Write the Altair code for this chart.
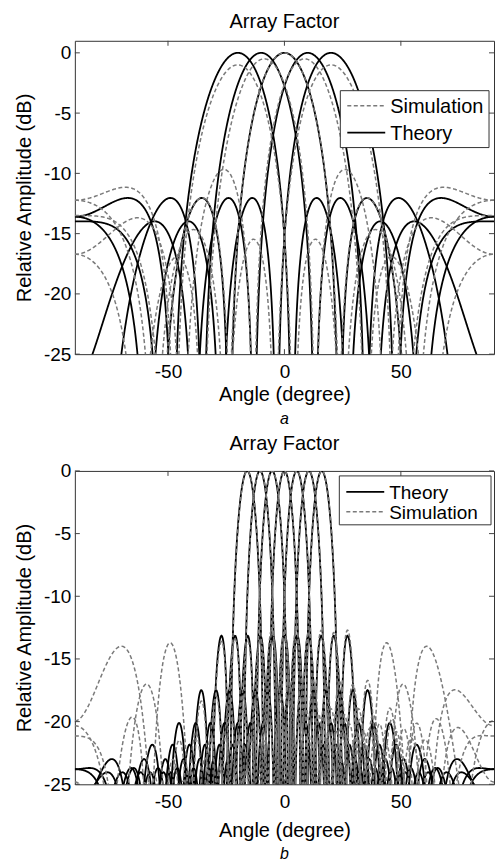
import numpy as np
import pandas as pd
import altair as alt

# ---- values ----
N_ELEMENTS_A = 5                      # panel a: elements (first sidelobe -12 dB, edge level -14 dB)
STEER_A = [-20, -10, 0, 10, 20]       # panel a: beam peak angles (deg)
SIM_PEAK_A = [-1.0, -0.5, 0.0, -0.5, -1.0]   # panel a: simulated beam peak levels (dB)
# panel a: per-element phase deviation of the simulated beams (deg)
SIM_PHASE_ERR_A = [
    [-3, 7, 0, -7, 5],
    [14, -8, 0, 7, -14],
    [6, -4, 0, -4, 6],
    [-14, 7, 0, -8, 14],
    [5, -7, 0, 7, -3],
]
N_ELEMENTS_B = 16                     # panel b
STEER_B = [-16.0, -10.5, -5.3, 0.0, 5.3, 10.5, 16.0]   # panel b: beam peak angles (deg)
# panel b: alternating (element-to-element) phase deviation of the simulated beams (deg)
SIM_ALT_ERR_B = [10.2, 6.0, 9.8, 5.5, 9.8, 6.0, 10.2]
X_TICKS = [-50, 0, 50]
Y_TICKS = [0, -5, -10, -15, -20, -25]
Y_DOMAIN_A = [-25, 1]
Y_DOMAIN_B = [-25, 0]
LEGEND_A = ["Simulation", "Theory"]
LEGEND_B = ["Theory", "Simulation"]

ANGLES = np.arange(-90.0, 90.0001, 0.25)
FONT = "Liberation Sans"
W, HA, HB = 420, 314, 314
COLORS = {"Theory": "#000000", "Simulation": "#7a7a7a"}
DASHES = {"Theory": [1, 0], "Simulation": [4, 2.5]}
WIDTHS = {"Theory": 1.8, "Simulation": 1.5}


def pattern(n, steer, err_deg=None, peak_db=0.0):
    idx = np.arange(n) - (n - 1) / 2.0
    ph = -np.pi * idx * np.sin(np.radians(steer))
    if err_deg is not None:
        ph = ph + np.radians(np.asarray(err_deg, dtype=float))
    u = np.pi * np.sin(np.radians(ANGLES))
    af = np.abs(np.exp(1j * (np.outer(u, idx) + ph)).sum(axis=1))
    af = af / af.max()
    return 20 * np.log10(np.maximum(af, 1e-4)) + peak_db


def table_a():
    rows = []
    for i, s in enumerate(STEER_A):
        rows.append(pd.DataFrame({"angle": ANGLES, "db": pattern(N_ELEMENTS_A, s),
                                  "kind": "Theory", "beam": f"T{i}"}))
    for i, s in enumerate(STEER_A):
        rows.append(pd.DataFrame({"angle": ANGLES,
                                  "db": pattern(N_ELEMENTS_A, s, SIM_PHASE_ERR_A[i], SIM_PEAK_A[i]),
                                  "kind": "Simulation", "beam": f"S{i}"}))
    return pd.concat(rows, ignore_index=True)


def table_b():
    rows = []
    alt_sign = np.where(np.arange(N_ELEMENTS_B) % 2 == 0, 1.0, -1.0)
    for i, s in enumerate(STEER_B):
        rows.append(pd.DataFrame({"angle": ANGLES, "db": pattern(N_ELEMENTS_B, s),
                                  "kind": "Theory", "beam": f"T{i}"}))
    for i, s in enumerate(STEER_B):
        rows.append(pd.DataFrame({"angle": ANGLES,
                                  "db": pattern(N_ELEMENTS_B, s, alt_sign * SIM_ALT_ERR_B[i]),
                                  "kind": "Simulation", "beam": f"S{i}"}))
    return pd.concat(rows, ignore_index=True)


def legend_layers(names, box, rows_y, fsize):
    x0, x1, y0, y1 = box
    layers = [alt.Chart(pd.DataFrame({"k": [0]})).mark_rect(
        fill="white", stroke="#333333", strokeWidth=1).encode(
        x=alt.value(x0), x2=alt.value(x1), y=alt.value(y0), y2=alt.value(y1))]
    for name, yy in zip(names, rows_y):
        d = pd.DataFrame({"t": [name]})
        layers.append(alt.Chart(d).mark_rule(
            color=COLORS[name], strokeDash=DASHES[name], strokeWidth=WIDTHS[name]).encode(
            x=alt.value(x0 + 7), x2=alt.value(x0 + 45), y=alt.value(yy)))
        layers.append(alt.Chart(d).mark_text(
            font=FONT, fontSize=fsize, align="left", baseline="middle", color="#000").encode(
            text="t:N", x=alt.value(x0 + 50), y=alt.value(yy + 1)))
    return layers


def panel(df, ydom, h, names, box, rows_y, fsize, caption, title_pad, cap_off):
    xs = alt.Scale(domain=[-90, 90], nice=False, zero=False)
    ys = alt.Scale(domain=ydom, nice=False, zero=False)
    sim = df[df.kind == "Simulation"]
    theo = df[df.kind == "Theory"]
    xax = alt.Axis(values=X_TICKS, title="Angle (degree)", ticks=False, grid=False,
                   domain=False, labelPadding=8, titlePadding=title_pad,
                   labelExpr="'' + datum.value")
    yax = alt.Axis(values=Y_TICKS, title="Relative Amplitude (dB)", ticks=False, grid=False,
                   domain=False, labelPadding=4, titlePadding=9,
                   labelExpr="'' + datum.value")

    def lines(d, kind):
        return alt.Chart(d).mark_line(
            clip=True, strokeWidth=WIDTHS[kind], color=COLORS[kind], strokeDash=DASHES[kind]).encode(
            x=alt.X("angle:Q", scale=xs, axis=xax),
            y=alt.Y("db:Q", scale=ys, axis=yax),
            detail="beam:N",
            order=alt.Order("angle:Q"))

    xt = pd.DataFrame({"v": X_TICKS})
    yt = pd.DataFrame({"v": Y_TICKS})
    tick_style = dict(color="#444444", strokeWidth=1)
    top = alt.Chart(xt).mark_rule(**tick_style).encode(x=alt.X("v:Q", scale=xs), y=alt.value(0), y2=alt.value(5))
    bot = alt.Chart(xt).mark_rule(**tick_style).encode(x=alt.X("v:Q", scale=xs), y=alt.value(h - 5), y2=alt.value(h))
    lft = alt.Chart(yt).mark_rule(**tick_style).encode(y=alt.Y("v:Q", scale=ys), x=alt.value(0), x2=alt.value(5))
    rgt = alt.Chart(yt).mark_rule(**tick_style).encode(y=alt.Y("v:Q", scale=ys), x=alt.value(W - 5), x2=alt.value(W))
    cap = alt.Chart(pd.DataFrame({"t": [caption]})).mark_text(
        font=FONT, fontSize=16, fontStyle="italic", baseline="top", align="center", color="#000"
    ).encode(text="t:N", x=alt.value(W / 2), y=alt.value(h + cap_off))
    return alt.layer(lines(theo, "Theory"), lines(sim, "Simulation"), top, bot, lft, rgt, cap,
                     *legend_layers(names, box, rows_y, fsize)).properties(
        width=W, height=h,
        title=alt.TitleParams("Array Factor", font=FONT, fontSize=20, fontWeight="normal",
                              color="#000", offset=8, anchor="middle"))


chart = alt.vconcat(
    panel(table_a(), Y_DOMAIN_A, HA, LEGEND_A, (266, 415, 50, 107), (65, 92), 20, "a", 3, 57),
    panel(table_b(), Y_DOMAIN_B, HB, LEGEND_B, (265, 417, 5, 54), (21, 41), 19, "b", 9, 62),
    spacing=5,
).resolve_scale(x="independent", y="independent"
).properties(padding={"left": 14, "top": 11, "right": 4, "bottom": 0}
).configure_view(stroke="#333333", strokeWidth=1
).configure_axis(labelFont=FONT, labelFontSize=19, labelColor="#000",
                 titleFont=FONT, titleFontSize=20, titleFontWeight="normal", titleColor="#000")

chart.save("out.html", embed_options={"renderer": "svg", "actions": False})
